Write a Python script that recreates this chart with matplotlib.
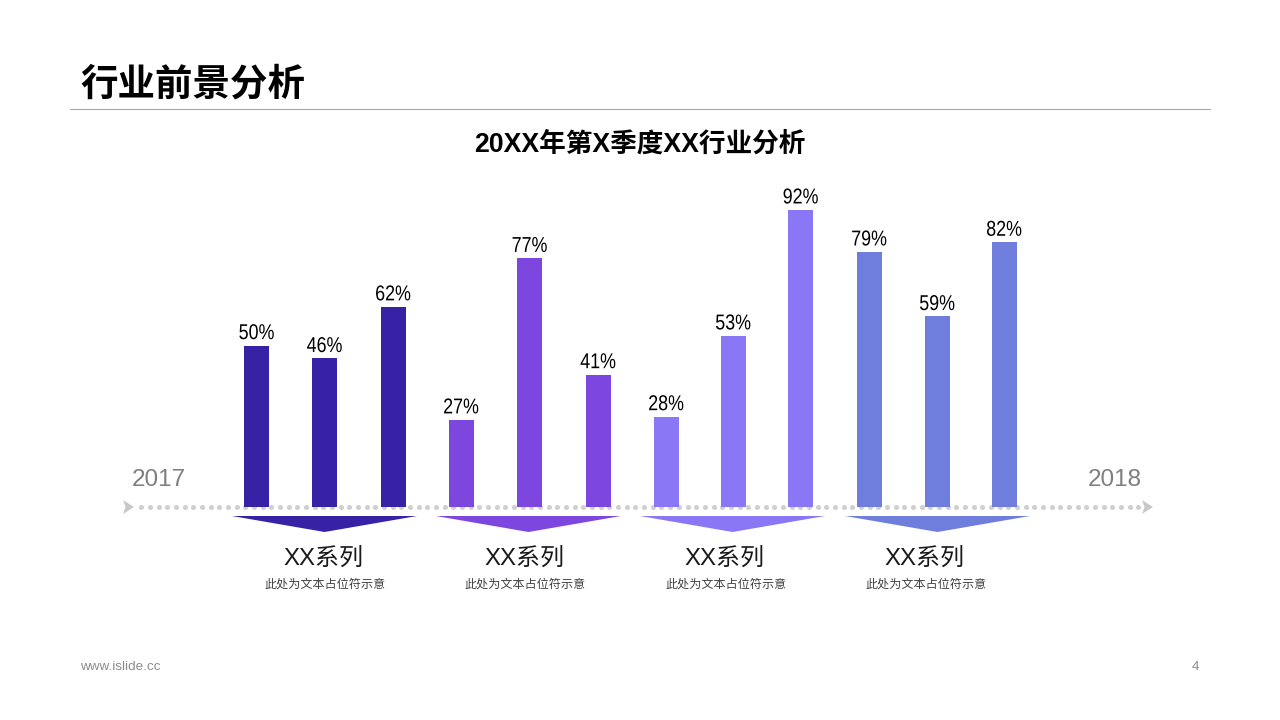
import matplotlib
matplotlib.use('Agg')
import matplotlib.pyplot as plt
from matplotlib.patches import Polygon
from matplotlib.patheffects import AbstractPathEffect
from matplotlib.transforms import Affine2D
import numpy as np

plt.rcParams['font.family'] = ['Liberation Sans', 'Noto Sans CJK SC', 'DejaVu Sans']

# values
values = [50, 46, 62, 27, 77, 41, 28, 53, 92, 79, 59, 82]
bar_colors = ['#3722A6'] * 3 + ['#7D46DE'] * 3 + ['#8A77F5'] * 3 + ['#6F7DDC'] * 3
group_names = ['XX系列', 'XX系列', 'XX系列', 'XX系列']
group_notes = ['此处为文本占位符示意'] * 4
group_colors = ['#3722A6', '#7D46DE', '#8A77F5', '#6F7DDC']

# layout in pixels
bar_centers = [256.5, 324.5, 393, 461, 529.5, 598, 666, 733, 800.5, 869, 937, 1004]
chevron_centers = [324.5, 528.5, 732.5, 937.5]
text_centers = [323.5, 524, 724.5, 924.5]
note_centers = [325, 525, 726, 926]


class Squeeze(AbstractPathEffect):
    # narrows a text horizontally around its centre (no condensed font installed)
    def __init__(self, center, factor):
        super().__init__()
        self.center = center
        self.factor = factor

    def draw_path(self, renderer, gc, tpath, affine, rgbFace=None):
        squeeze = Affine2D().translate(-self.center, 0).scale(self.factor, 1).translate(self.center, 0)
        renderer.draw_path(gc, tpath, affine + squeeze, rgbFace)


W, H = 1280, 720
fig = plt.figure(figsize=(W / 100, H / 100), dpi=100, facecolor='white')

# full page overlay in pixel coordinates
bg = fig.add_axes([0, 0, 1, 1])
bg.set_xlim(0, W)
bg.set_ylim(H, 0)
bg.axis('off')

bg.text(80, 85.5, '行业前景分析', fontsize=27, fontweight='bold', color='black', ha='left', va='center')
bg.plot([70, 1210], [108.5, 108.5], color='#A6A6A6', lw=0.8)
bg.text(640, 145, '20XX年第X季度XX行业分析', fontsize=19.2, fontweight='bold', color='black', ha='center', va='center')

# dotted timeline
dots = np.arange(141.3, 1139, 8.67)
bg.scatter(dots, [507] * len(dots), s=13, color='#CFCFCF', linewidths=0, zorder=1)
bg.add_patch(Polygon([(123, 500), (134, 507), (123, 514), (125.5, 507)], color='#C8C8C8', lw=0))
bg.add_patch(Polygon([(1142, 500), (1153, 507), (1142, 514), (1144.5, 507)], color='#C8C8C8', lw=0))
bg.text(159, 480.5, '2017', fontsize=17.5, color='#7F7F7F', ha='center', va='center')
bg.text(1115, 480.5, '2018', fontsize=17.5, color='#7F7F7F', ha='center', va='center')

for cx, c in zip(chevron_centers, group_colors):
    bg.add_patch(Polygon([(cx - 92.5, 516), (cx + 92.5, 516), (cx, 532)], color=c, lw=0))
for tx, name in zip(text_centers, group_names):
    bg.text(tx, 558.5, name, fontsize=17.3, color='#1A1A1A', ha='center', va='center')
for nx, note in zip(note_centers, group_notes):
    bg.text(nx, 585, note, fontsize=8.7, color='#404040', ha='center', va='center')

bg.text(80, 667.5, 'www.islide.cc', fontsize=9.7, color='#8C8C8C', ha='left', va='center')
bg.text(1195.5, 667.5, '4', fontsize=9.7, color='#8C8C8C', ha='center', va='center')

# bar chart: x in page pixels, y 0..100 at 3.23 px per %
ax = fig.add_axes([0, (H - 507) / H, 1, 323 / H])
ax.patch.set_alpha(0)
ax.set_xlim(0, W)
ax.set_ylim(0, 100)
ax.axis('off')
ax.bar(bar_centers, values, width=25, color=bar_colors, linewidth=0, zorder=2)
for xi, v in zip(bar_centers, values):
    ax.annotate(f'{v}%', (xi, v), xytext=(0, 1), textcoords='offset points', ha='center', va='bottom',
                fontsize=15.5, color='black', path_effects=[Squeeze(xi, 0.83)])

fig.savefig('out.png', dpi=100)
